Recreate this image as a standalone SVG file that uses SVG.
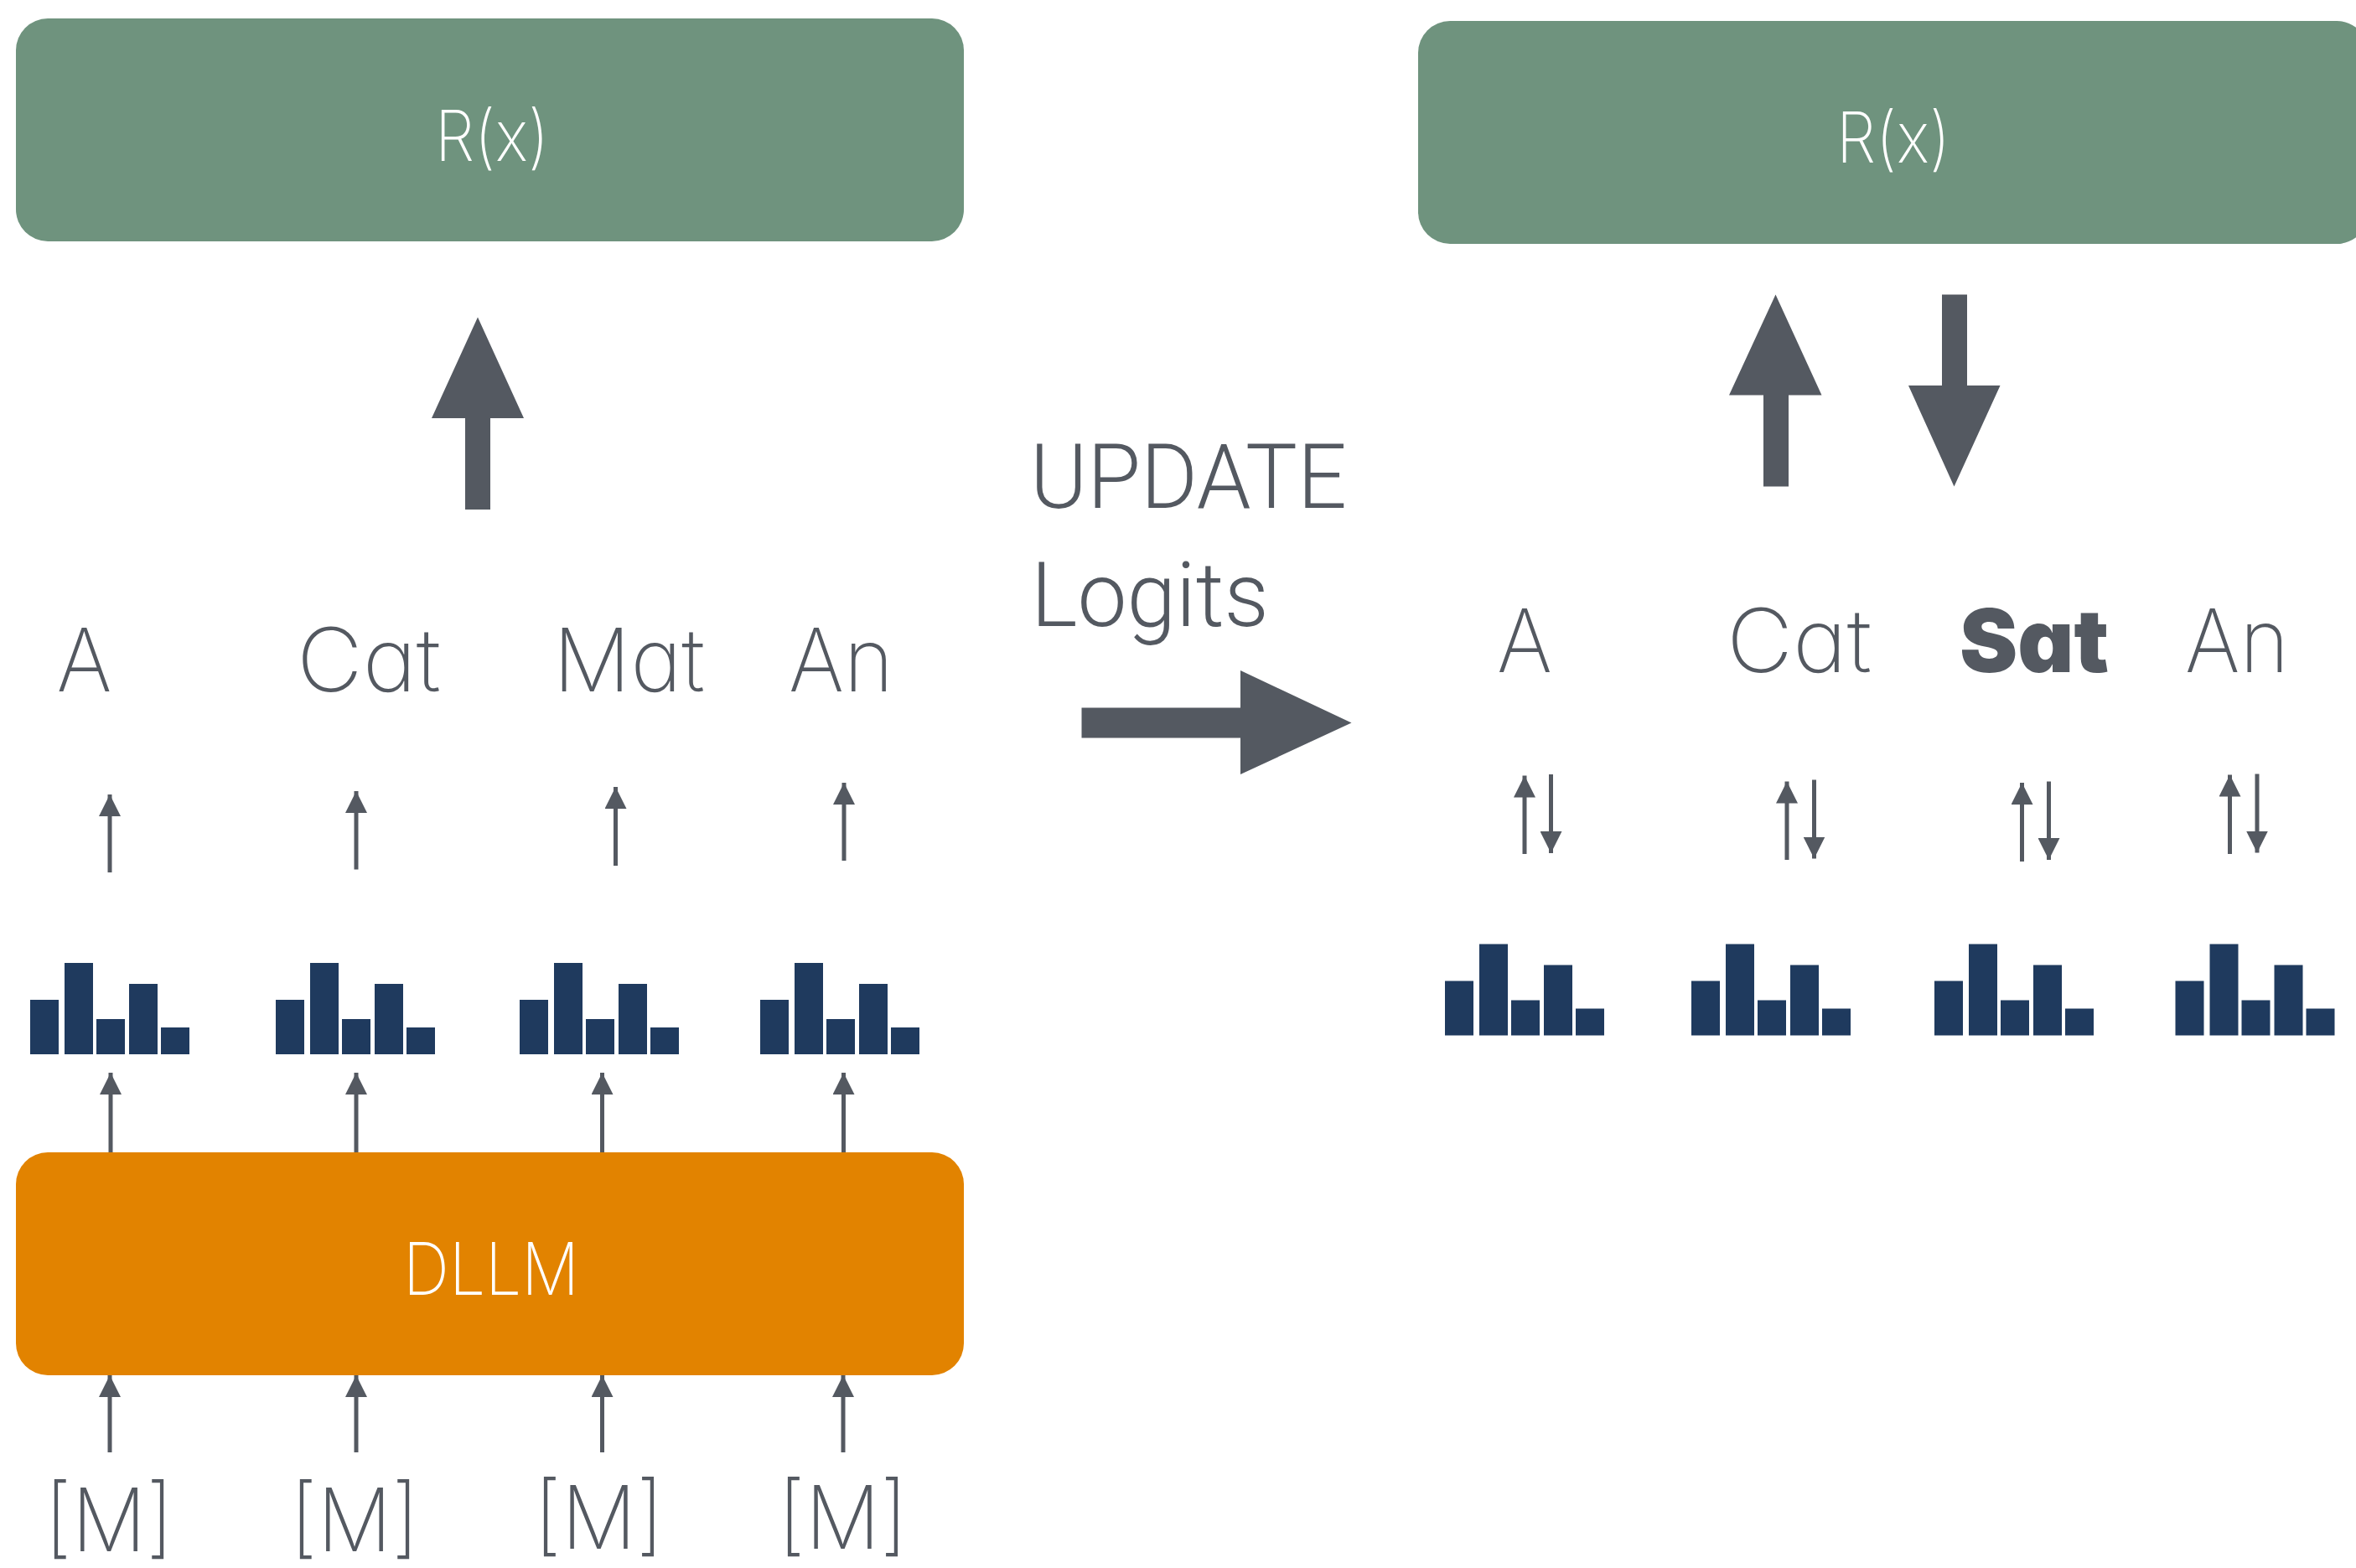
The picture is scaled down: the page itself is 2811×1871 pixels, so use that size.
<svg xmlns="http://www.w3.org/2000/svg" width="2811" height="1871" viewBox="0 0 2811 1871">
  <defs>
    <style>
      .bg { fill: #ffffff; }
      .reward { fill: #6f937e; }
      .model { fill: #e28300; }
      .box-label { font-family: Inter, "Liberation Sans", sans-serif; font-weight: 200; fill: #ffffff; text-anchor: middle; }
      .token { font-family: Inter, "Liberation Sans", sans-serif; font-weight: 200; fill: #545961; font-feature-settings: "cv11"; }
      .token-bold { font-family: Inter, "Liberation Sans", sans-serif; font-weight: 900; fill: #545961; font-feature-settings: "cv11"; }
      .caption { font-family: Roboto, "Liberation Sans", sans-serif; font-weight: 300; fill: #545961; }
      .bar { fill: #1f3a5e; }
      .thin { stroke: #545961; stroke-width: 5; fill: none; }
      .bigarrow { fill: #545961; }
    </style>
    <marker id="head" viewBox="0 0 26 26" refX="26" refY="13" markerWidth="26" markerHeight="26" markerUnits="userSpaceOnUse" orient="auto">
      <path d="M0,0 L26,13 L0,26 Z" fill="#545961"/>
    </marker>
    <!-- one logit histogram, bars resting on y=0 -->
    <g id="hist">
      <rect class="bar" x="0" y="-65" width="34" height="65"/>
      <rect class="bar" x="41" y="-109" width="34" height="109"/>
      <rect class="bar" x="79" y="-42" width="34" height="42"/>
      <rect class="bar" x="118" y="-84" width="34" height="84"/>
      <rect class="bar" x="156" y="-32" width="34" height="32"/>
    </g>
  </defs>

  <rect class="bg" x="0" y="0" width="2811" height="1871"/>

  <!-- left panel: reward model -->
  <g id="reward-left">
    <rect class="reward" x="19" y="22" width="1131" height="266" rx="38"/>
    <text class="box-label" x="587" y="192" font-size="84" textLength="136" lengthAdjust="spacingAndGlyphs">R(x)</text>
  </g>

  <!-- left panel: diffusion LLM -->
  <g id="dllm">
    <rect class="model" x="19" y="1375" width="1131" height="266" rx="38"/>
    <text class="box-label" x="586" y="1545" font-size="86" textLength="210" lengthAdjust="spacingAndGlyphs">DLLM</text>
  </g>

  <!-- left panel: decoded tokens -->
  <g id="tokens-left">
    <text class="token" x="100.5" y="825" font-size="105" text-anchor="middle" textLength="66" lengthAdjust="spacingAndGlyphs">A</text>
    <text class="token" x="440" y="825" font-size="105" text-anchor="middle" textLength="172" lengthAdjust="spacingAndGlyphs">Cat</text>
    <text class="token" x="750.5" y="825" font-size="105" text-anchor="middle" textLength="181" lengthAdjust="spacingAndGlyphs">Mat</text>
    <text class="token" x="1003.5" y="825" font-size="105" text-anchor="middle" textLength="125" lengthAdjust="spacingAndGlyphs">An</text>
  </g>

  <!-- left panel: logits -->
  <g id="logits-left">
    <use href="#hist" x="36" y="1258"/>
    <use href="#hist" x="329" y="1258"/>
    <use href="#hist" x="620" y="1258"/>
    <use href="#hist" x="907" y="1258"/>
  </g>

  <!-- left panel: masked inputs -->
  <g id="masks">
    <text class="token" x="130" y="1851" font-size="105" text-anchor="middle" textLength="154" lengthAdjust="spacingAndGlyphs">[M]</text>
    <text class="token" x="423" y="1851" font-size="105" text-anchor="middle" textLength="154" lengthAdjust="spacingAndGlyphs">[M]</text>
    <text class="token" x="714.5" y="1848" font-size="105" text-anchor="middle" textLength="155" lengthAdjust="spacingAndGlyphs">[M]</text>
    <text class="token" x="1005.5" y="1848" font-size="105" text-anchor="middle" textLength="155" lengthAdjust="spacingAndGlyphs">[M]</text>
  </g>

  <!-- update step -->
  <g id="update">
    <text class="caption" x="1229" y="606" font-size="108" textLength="378" lengthAdjust="spacingAndGlyphs">UPDATE</text>
    <text class="caption" x="1230" y="747" font-size="108" textLength="284" lengthAdjust="spacingAndGlyphs">Logits</text>
  </g>

  <!-- right panel: reward model -->
  <g id="reward-right">
    <rect class="reward" x="1692" y="25" width="1134" height="266" rx="38"/>
    <text class="box-label" x="2259" y="194" font-size="84" textLength="136" lengthAdjust="spacingAndGlyphs">R(x)</text>
  </g>

  <!-- right panel: refined tokens -->
  <g id="tokens-right">
    <text class="token" x="1819" y="802" font-size="105" text-anchor="middle" textLength="66" lengthAdjust="spacingAndGlyphs">A</text>
    <text class="token" x="2146.5" y="802" font-size="105" text-anchor="middle" textLength="173" lengthAdjust="spacingAndGlyphs">Cat</text>
    <text class="token-bold" x="2427" y="802" font-size="105" text-anchor="middle" textLength="178" lengthAdjust="spacingAndGlyphs">Sat</text>
    <text class="token" x="2669" y="802" font-size="105" text-anchor="middle" textLength="124" lengthAdjust="spacingAndGlyphs">An</text>
  </g>

  <!-- right panel: logits -->
  <g id="logits-right">
    <use href="#hist" x="1724" y="1235.5"/>
    <use href="#hist" x="2018" y="1235.5"/>
    <use href="#hist" x="2308" y="1235.5"/>
    <use href="#hist" x="2595.5" y="1235.5"/>
  </g>

  <g id="connectors">
    <!-- tokens up to reward (left) -->
    <polygon class="bigarrow" points="570,378.5 625,499 585,499 585,608 555,608 555,499 515,499"/>
    <!-- update arrow -->
    <polygon class="bigarrow" points="1290.5,844.5 1480,844.5 1480,800 1612.5,862.5 1480,924 1480,880.5 1290.5,880.5"/>
    <!-- reward gradient exchange (right) -->
    <polygon class="bigarrow" points="2118.5,351.5 2173.5,471.5 2134,471.5 2134,580.5 2104,580.5 2104,471.5 2063,471.5"/>
    <polygon class="bigarrow" points="2317,351.5 2347,351.5 2347,460 2386.5,460 2331.5,580.5 2277,460 2317,460"/>

    <!-- logits up to tokens (left) -->
    <line class="thin" x1="131" y1="1041" x2="131" y2="948" marker-end="url(#head)"/>
    <line class="thin" x1="425" y1="1037.5" x2="425" y2="944" marker-end="url(#head)"/>
    <line class="thin" x1="734.5" y1="1033" x2="734.5" y2="939" marker-end="url(#head)"/>
    <line class="thin" x1="1007" y1="1027" x2="1007" y2="934" marker-end="url(#head)"/>

    <!-- DLLM up to logits -->
    <line class="thin" x1="132" y1="1375" x2="132" y2="1280" marker-end="url(#head)"/>
    <line class="thin" x1="425" y1="1375" x2="425" y2="1280" marker-end="url(#head)"/>
    <line class="thin" x1="718.5" y1="1375" x2="718.5" y2="1280" marker-end="url(#head)"/>
    <line class="thin" x1="1006.5" y1="1375" x2="1006.5" y2="1280" marker-end="url(#head)"/>

    <!-- masked inputs up to DLLM -->
    <line class="thin" x1="131" y1="1733" x2="131" y2="1641" marker-end="url(#head)"/>
    <line class="thin" x1="425" y1="1733" x2="425" y2="1641" marker-end="url(#head)"/>
    <line class="thin" x1="718.5" y1="1733" x2="718.5" y2="1641" marker-end="url(#head)"/>
    <line class="thin" x1="1006" y1="1733" x2="1006" y2="1641" marker-end="url(#head)"/>

    <!-- two-way arrows between logits and tokens (right) -->
    <line class="thin" x1="1819" y1="1019" x2="1819" y2="925.5" marker-end="url(#head)"/>
    <line class="thin" x1="1850.5" y1="924" x2="1850.5" y2="1018" marker-end="url(#head)"/>
    <line class="thin" x1="2132" y1="1026" x2="2132" y2="932.5" marker-end="url(#head)"/>
    <line class="thin" x1="2164.5" y1="930.5" x2="2164.5" y2="1024.5" marker-end="url(#head)"/>
    <line class="thin" x1="2412.5" y1="1028" x2="2412.5" y2="934" marker-end="url(#head)"/>
    <line class="thin" x1="2444.5" y1="932.5" x2="2444.5" y2="1026" marker-end="url(#head)"/>
    <line class="thin" x1="2660.5" y1="1019" x2="2660.5" y2="924.5" marker-end="url(#head)"/>
    <line class="thin" x1="2693" y1="923.5" x2="2693" y2="1017.5" marker-end="url(#head)"/>
  </g>
</svg>
